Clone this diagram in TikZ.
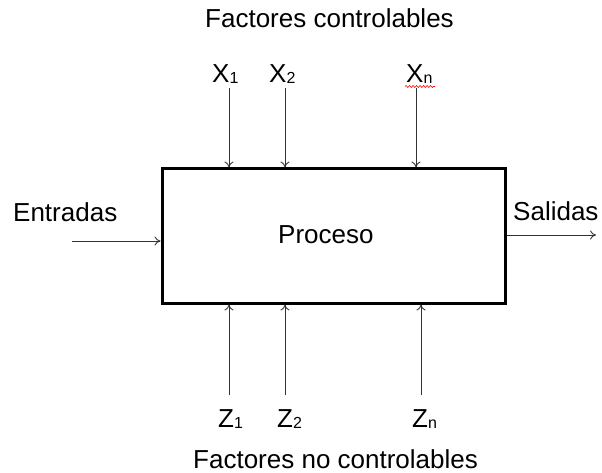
\documentclass[tikz,border=0pt]{standalone}
\usepackage{fontspec}
\setmainfont{Liberation Sans}
\usetikzlibrary{arrows.meta,decorations.pathmorphing}
\newcommand{\sbs}[1]{{\fontsize{16}{16}\selectfont\raisebox{-1pt}{#1}}}
\begin{document}
\begin{tikzpicture}[x=1pt,y=-1pt,
  lbl/.style={font=\fontsize{26}{30}\selectfont, inner sep=0pt, anchor=base west},
  flow/.style={line width=0.9pt, black!80, -{To[length=6pt,width=9pt]}},
  squiggle/.style={red, line width=0.6pt, decorate, decoration={snake, amplitude=1pt, segment length=3.5pt}},
  procbox/.style={draw, line width=3pt, minimum width=343pt, minimum height=134pt, inner sep=0pt}]
\useasboundingbox (0,0) rectangle (602,473);
% process block
\node[procbox] (box) at (333.5,236) {};
\node[lbl] (proc) at (278,243) {Proceso};
% headings
\node[lbl] (top) at (205,28) {Factores controlables};
\node[lbl] (bot) at (193,468) {Factores no controlables};
\node[lbl] (inp) at (13,222) {Entradas};
\node[lbl] (outp) at (513,221) {Salidas};
% controllable factors
\node[lbl] (x1) at (212,83) {X\sbs{1}};
\node[lbl] (x2) at (269,83) {X\sbs{2}};
\node[lbl] (xn) at (406,83) {X\sbs{n}};
\draw[squiggle] (405,86.5) -- (435,86.5);
% uncontrollable factors
\node[lbl] (z1) at (218,427) {Z\sbs{1}};
\node[lbl] (z2) at (277,427) {Z\sbs{2}};
\node[lbl] (zn) at (412,427) {Z\sbs{n}};
% connectors
\coordinate (x1t) at (229,88);
\coordinate (x2t) at (285,88);
\coordinate (xnt) at (416,88);
\coordinate (z1b) at (229,395);
\coordinate (z2b) at (285,395);
\coordinate (znb) at (421,395);
\draw[flow] (x1t) -- (x1t |- box.north);
\draw[flow] (x2t) -- (x2t |- box.north);
\draw[flow] (xnt) -- (xnt |- box.north);
\draw[flow] (z1b) -- (z1b |- box.south);
\draw[flow] (z2b) -- (z2b |- box.south);
\draw[flow] (znb) -- (znb |- box.south);
\coordinate (ins) at (72,241);
\coordinate (oute) at (596,235);
\draw[flow] (ins) -- (ins -| box.west);
\draw[flow] (oute -| box.east) -- (oute);
\end{tikzpicture}
\end{document}
